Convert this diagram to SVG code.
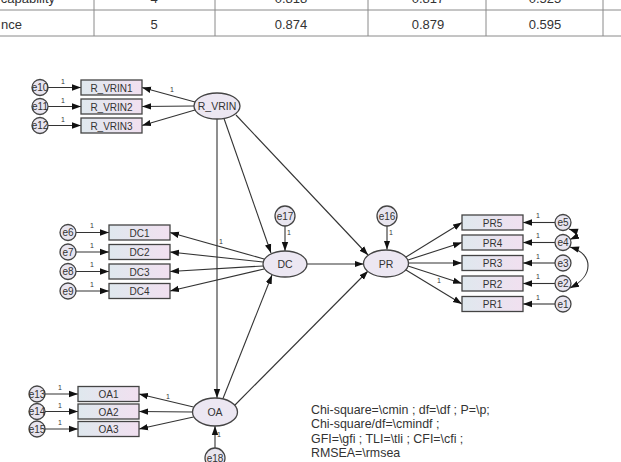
<svg xmlns="http://www.w3.org/2000/svg" width="621" height="462" viewBox="0 0 621 462">
<style>
text{font-family:"Liberation Sans",Arial,sans-serif;fill:#333}
.tb{font-size:13px}
.tl{stroke:#8a8a8a;stroke-width:1;fill:none}
.box{fill:url(#g);stroke:#444;stroke-width:1.3}
.lat{fill:#ece7f2;stroke:#444;stroke-width:1.3}
.err{fill:#e8e5ef;stroke:#444;stroke-width:1.3}
.lb{font-size:10px;text-anchor:middle}
.el{font-size:10.5px;text-anchor:middle}
.one{font-size:7px;text-anchor:middle}
.c line,.c path{stroke:#333;stroke-width:1.1;fill:none;marker-end:url(#a)}
.c path.bi{marker-start:url(#as)}
.st{font-size:12.4px}
</style>
<defs>
<linearGradient id="g" x1="0" x2="1" y1="0" y2="0">
<stop offset="0" stop-color="#dfe8ee"/>
<stop offset="1" stop-color="#f1e0f0"/>
</linearGradient>
<marker id="a" markerUnits="userSpaceOnUse" markerWidth="10" markerHeight="8" refX="9" refY="4" orient="auto">
<path d="M0,0.8 L9,4 L0,7.2 Z" fill="#111"/>
</marker>
<marker id="as" markerUnits="userSpaceOnUse" markerWidth="10" markerHeight="8" refX="0" refY="4" orient="auto">
<path d="M9,0.8 L0,4 L9,7.2 Z" fill="#111"/>
</marker>
</defs>
<rect width="621" height="462" fill="#fff"/>

<g id="table">
<line class="tl" x1="0" y1="10" x2="621" y2="10"/>
<line class="tl" x1="0" y1="36" x2="621" y2="36"/>
<line class="tl" x1="94" y1="0" x2="94" y2="36"/>
<line class="tl" x1="215" y1="0" x2="215" y2="36"/>
<line class="tl" x1="368" y1="0" x2="368" y2="36"/>
<line class="tl" x1="486" y1="0" x2="486" y2="36"/>
<line class="tl" x1="603" y1="0" x2="603" y2="36"/>
<text class="tb" x="55" y="2.5" text-anchor="end">capability</text>
<text class="tb" x="154" y="2.5" text-anchor="middle">4</text>
<text class="tb" x="291" y="2.5" text-anchor="middle">0.818</text>
<text class="tb" x="428" y="2.5" text-anchor="middle">0.817</text>
<text class="tb" x="545" y="2.5" text-anchor="middle">0.525</text>
<text class="tb" x="22" y="28.5" text-anchor="end">nce</text>
<text class="tb" x="154" y="28.5" text-anchor="middle">5</text>
<text class="tb" x="291" y="28.5" text-anchor="middle">0.874</text>
<text class="tb" x="428" y="28.5" text-anchor="middle">0.879</text>
<text class="tb" x="545" y="28.5" text-anchor="middle">0.595</text>
</g>

<g id="connectors" class="c">
<!-- R_VRIN indicators -->
<line x1="48" y1="87.5" x2="81" y2="87.5"/>
<line x1="48" y1="106.5" x2="81" y2="106.5"/>
<line x1="48" y1="125.5" x2="81" y2="125.5"/>
<line x1="195" y1="102" x2="142" y2="87.5"/>
<line x1="194" y1="106" x2="142" y2="106.5"/>
<line x1="195" y1="110" x2="142" y2="125.5"/>
<!-- DC indicators -->
<line x1="76" y1="232.5" x2="109" y2="232.5"/>
<line x1="76" y1="252" x2="109" y2="252"/>
<line x1="76" y1="271.5" x2="109" y2="271.5"/>
<line x1="76" y1="291" x2="109" y2="291"/>
<line x1="264" y1="259" x2="170" y2="232.5"/>
<line x1="263" y1="262" x2="170" y2="252"/>
<line x1="263" y1="266" x2="170" y2="271.5"/>
<line x1="264" y1="269" x2="170" y2="291"/>
<!-- OA indicators -->
<line x1="45" y1="394" x2="78" y2="394"/>
<line x1="45" y1="411.5" x2="78" y2="411.5"/>
<line x1="45" y1="429" x2="78" y2="429"/>
<line x1="193.5" y1="407" x2="139" y2="394"/>
<line x1="192.5" y1="412" x2="139" y2="411.5"/>
<line x1="193.5" y1="417" x2="139" y2="429"/>
<!-- PR indicators -->
<line x1="406" y1="257" x2="462" y2="222.5"/>
<line x1="408" y1="260" x2="462" y2="242.5"/>
<line x1="408.5" y1="263" x2="462" y2="263"/>
<line x1="408" y1="266" x2="462" y2="283.5"/>
<line x1="406" y1="270" x2="462" y2="304"/>
<line x1="555" y1="222.5" x2="523" y2="222.5"/>
<line x1="555" y1="242.5" x2="523" y2="242.5"/>
<line x1="555" y1="263" x2="523" y2="263"/>
<line x1="555" y1="283.5" x2="523" y2="283.5"/>
<line x1="555" y1="304" x2="523" y2="304"/>
<!-- structural -->
<line x1="217" y1="119" x2="217" y2="398"/>
<line x1="224" y1="118.5" x2="271" y2="253"/>
<line x1="236" y1="115" x2="368" y2="255"/>
<line x1="223" y1="398.5" x2="272" y2="275"/>
<line x1="235" y1="405" x2="368" y2="271"/>
<line x1="307" y1="264" x2="363.5" y2="264"/>
<line x1="285" y1="226" x2="285" y2="251"/>
<line x1="387" y1="226" x2="387" y2="249.5"/>
<line x1="215" y1="448" x2="215" y2="426"/>
<!-- covariances -->
<path class="bi" d="M569,229 C578,232 578,236 570,239.5"/>
<path class="bi" d="M570,247 C594,254 594,276 570,288"/>
</g>

<g id="R_VRIN"><ellipse class="lat" cx="217" cy="106" rx="23" ry="13"/><text class="el" x="217" y="110">R_VRIN</text></g>
<g id="R_VRIN1"><rect class="box" x="81" y="80" width="61" height="15"/><text class="lb" x="111.5" y="91.5">R_VRIN1</text></g>
<g id="R_VRIN2"><rect class="box" x="81" y="99" width="61" height="15"/><text class="lb" x="111.5" y="110.5">R_VRIN2</text></g>
<g id="R_VRIN3"><rect class="box" x="81" y="118" width="61" height="15"/><text class="lb" x="111.5" y="129.5">R_VRIN3</text></g>
<g id="e10"><circle class="err" cx="40" cy="87.5" r="8"/><text class="lb" x="40" y="91">e10</text></g>
<g id="e11"><circle class="err" cx="40" cy="106.5" r="8"/><text class="lb" x="40" y="110">e11</text></g>
<g id="e12"><circle class="err" cx="40" cy="125.5" r="8"/><text class="lb" x="40" y="129">e12</text></g>

<g id="DC"><ellipse class="lat" cx="285" cy="264" rx="22" ry="13"/><text class="el" x="285" y="268">DC</text></g>
<g id="DC1"><rect class="box" x="109" y="225" width="61" height="15"/><text class="lb" x="139.5" y="236.5">DC1</text></g>
<g id="DC2"><rect class="box" x="109" y="244.5" width="61" height="15"/><text class="lb" x="139.5" y="256">DC2</text></g>
<g id="DC3"><rect class="box" x="109" y="264" width="61" height="15"/><text class="lb" x="139.5" y="275.5">DC3</text></g>
<g id="DC4"><rect class="box" x="109" y="283.5" width="61" height="15"/><text class="lb" x="139.5" y="295">DC4</text></g>
<g id="e6"><circle class="err" cx="68" cy="232.5" r="8"/><text class="lb" x="68" y="236">e6</text></g>
<g id="e7"><circle class="err" cx="68" cy="252" r="8"/><text class="lb" x="68" y="255.5">e7</text></g>
<g id="e8"><circle class="err" cx="68" cy="271.5" r="8"/><text class="lb" x="68" y="275">e8</text></g>
<g id="e9"><circle class="err" cx="68" cy="291" r="8"/><text class="lb" x="68" y="294.5">e9</text></g>
<g id="e17"><circle class="err" cx="285" cy="216" r="10"/><text class="lb" x="285" y="219.5">e17</text></g>

<g id="PR"><ellipse class="lat" cx="386" cy="263.5" rx="22.5" ry="13.5"/><text class="el" x="386" y="267.5">PR</text></g>
<g id="PR5"><rect class="box" x="462" y="215" width="61" height="15"/><text class="lb" x="492.5" y="226.5">PR5</text></g>
<g id="PR4"><rect class="box" x="462" y="235" width="61" height="15"/><text class="lb" x="492.5" y="246.5">PR4</text></g>
<g id="PR3"><rect class="box" x="462" y="255.5" width="61" height="15"/><text class="lb" x="492.5" y="267">PR3</text></g>
<g id="PR2"><rect class="box" x="462" y="276" width="61" height="15"/><text class="lb" x="492.5" y="287.5">PR2</text></g>
<g id="PR1"><rect class="box" x="462" y="296.5" width="61" height="15"/><text class="lb" x="492.5" y="308">PR1</text></g>
<g id="e5"><circle class="err" cx="563" cy="222.5" r="8"/><text class="lb" x="563" y="226">e5</text></g>
<g id="e4"><circle class="err" cx="563" cy="242.5" r="8"/><text class="lb" x="563" y="246">e4</text></g>
<g id="e3"><circle class="err" cx="563" cy="263" r="8"/><text class="lb" x="563" y="266.5">e3</text></g>
<g id="e2"><circle class="err" cx="563" cy="283.5" r="8"/><text class="lb" x="563" y="287">e2</text></g>
<g id="e1"><circle class="err" cx="563" cy="304" r="8"/><text class="lb" x="563" y="307.5">e1</text></g>
<g id="e16"><circle class="err" cx="387" cy="216" r="10"/><text class="lb" x="387" y="219.5">e16</text></g>

<g id="OA"><ellipse class="lat" cx="215" cy="412" rx="22.5" ry="14"/><text class="el" x="215" y="416">OA</text></g>
<g id="OA1"><rect class="box" x="78" y="386.5" width="61" height="15"/><text class="lb" x="108.5" y="398">OA1</text></g>
<g id="OA2"><rect class="box" x="78" y="404" width="61" height="15"/><text class="lb" x="108.5" y="415.5">OA2</text></g>
<g id="OA3"><rect class="box" x="78" y="421.5" width="61" height="15"/><text class="lb" x="108.5" y="433">OA3</text></g>
<g id="e13"><circle class="err" cx="37" cy="394" r="8"/><text class="lb" x="37" y="397.5">e13</text></g>
<g id="e14"><circle class="err" cx="37" cy="411.5" r="8"/><text class="lb" x="37" y="415">e14</text></g>
<g id="e15"><circle class="err" cx="37" cy="429" r="8"/><text class="lb" x="37" y="432.5">e15</text></g>
<g id="e18"><circle class="err" cx="215" cy="458" r="10"/><text class="lb" x="215" y="461.5">e18</text></g>

<g id="ones">
<text class="one" x="63" y="84">1</text>
<text class="one" x="63" y="103">1</text>
<text class="one" x="63" y="122">1</text>
<text class="one" x="172" y="92">1</text>
<text class="one" x="92" y="228">1</text>
<text class="one" x="92" y="247.5">1</text>
<text class="one" x="92" y="267">1</text>
<text class="one" x="92" y="286.5">1</text>
<text class="one" x="221" y="244">1</text>
<text class="one" x="289" y="235">1</text>
<text class="one" x="391" y="235">1</text>
<text class="one" x="538" y="218">1</text>
<text class="one" x="538" y="238">1</text>
<text class="one" x="538" y="258.5">1</text>
<text class="one" x="538" y="279">1</text>
<text class="one" x="538" y="299.5">1</text>
<text class="one" x="439" y="283">1</text>
<text class="one" x="60" y="390">1</text>
<text class="one" x="60" y="407.5">1</text>
<text class="one" x="60" y="425">1</text>
<text class="one" x="168" y="399">1</text>
<text class="one" x="219" y="437">1</text>
</g>

<g id="stats">
<text class="st" x="311" y="414">Chi-square=\cmin ; df=\df ; P=\p;</text>
<text class="st" x="311" y="428.3">Chi-square/df=\cmindf ;</text>
<text class="st" x="311" y="442.6">GFI=\gfi ; TLI=\tli ; CFI=\cfi ;</text>
<text class="st" x="311" y="456.9">RMSEA=\rmsea</text>
</g>
</svg>
